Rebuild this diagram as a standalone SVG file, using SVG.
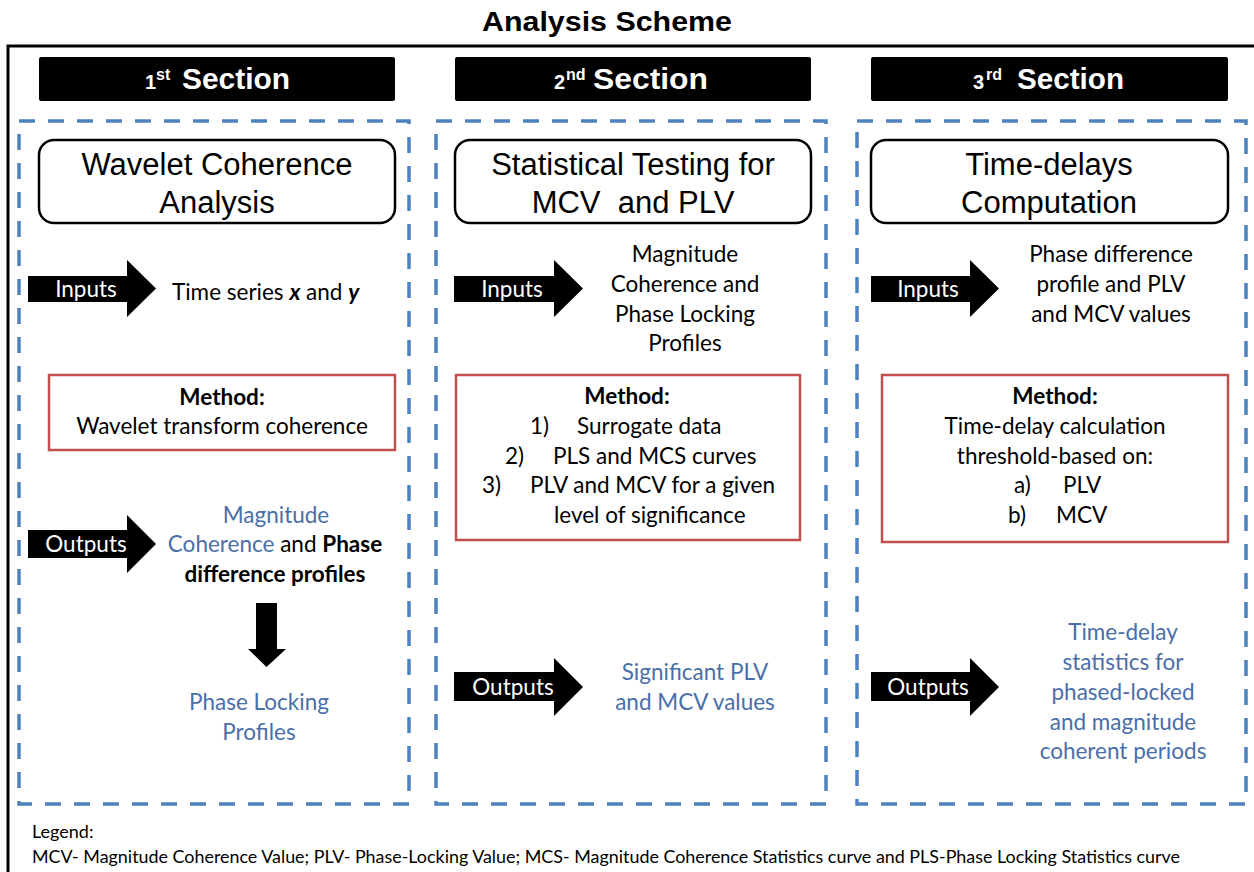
<svg xmlns="http://www.w3.org/2000/svg" width="1254" height="872" viewBox="0 0 1254 872">
<style>
.bg{fill:#ffffff}
.frame{fill:none;stroke:#000;stroke-width:3}
.hdr{fill:#000}
.hdrt{fill:#fff;font-family:"Liberation Sans",Arial,sans-serif;font-weight:bold}
.title{font-family:"Liberation Sans",Arial,sans-serif;font-weight:bold;font-size:28px;fill:#000}
.dash{fill:none;stroke:#4F81BD;stroke-width:3.5;stroke-dasharray:16 13}
.rbox{fill:#fff;stroke:#000;stroke-width:2.5}
.rt{font-family:"Liberation Sans",Arial,sans-serif;font-size:31px;fill:#000;text-anchor:middle}
.mbox{fill:#fff;stroke:#C0504D;stroke-width:2.5}
.t{font-family:Lato,"Liberation Sans",sans-serif;font-size:22.5px;fill:#000}
.c{text-anchor:middle}
.b{font-weight:bold}
.blue{fill:#4A6EA8}
.arr{fill:#000}
.at{font-family:Lato,"Liberation Sans",sans-serif;font-size:22.5px;fill:#fff;text-anchor:middle}
.leg{font-family:Lato,"Liberation Sans",sans-serif;font-size:18px;fill:#000}
</style>
<rect class="bg" x="0" y="0" width="1254" height="872"/>
<text class="title" x="482" y="31" textLength="250" lengthAdjust="spacingAndGlyphs">Analysis Scheme</text>
<path class="frame" d="M8,874 V46 H1256"/>

<g id="header1">
<rect class="hdr" x="39" y="57" width="356" height="44" rx="2"/>
<text class="hdrt" x="145" y="89" font-size="20">1</text>
<text class="hdrt" x="156" y="80" font-size="16">st</text>
<text class="hdrt" x="182" y="89" font-size="30" textLength="108" lengthAdjust="spacingAndGlyphs">Section</text>
</g>
<g id="header2">
<rect class="hdr" x="455" y="57" width="356" height="44" rx="2"/>
<text class="hdrt" x="554" y="89" font-size="20">2</text>
<text class="hdrt" x="566" y="80" font-size="16">nd</text>
<text class="hdrt" x="593" y="89" font-size="30" textLength="115" lengthAdjust="spacingAndGlyphs">Section</text>
</g>
<g id="header3">
<rect class="hdr" x="871" y="57" width="357" height="44" rx="2"/>
<text class="hdrt" x="973" y="89" font-size="20">3</text>
<text class="hdrt" x="986" y="80" font-size="16">rd</text>
<text class="hdrt" x="1017" y="89" font-size="30" textLength="107" lengthAdjust="spacingAndGlyphs">Section</text>
</g>

<g id="section1">
<rect class="dash" x="19" y="121" width="390" height="683"/>
</g>
<g id="section2">
<rect class="dash" x="436" y="121" width="390" height="683"/>
</g>
<g id="section3">
<rect class="dash" x="857" y="121" width="389" height="683"/>
</g>

<g id="title1">
<rect class="rbox" x="39" y="140" width="356" height="83" rx="15"/>
<text class="rt" x="217" y="175">Wavelet Coherence</text>
<text class="rt" x="217" y="213">Analysis</text>
</g>
<g id="title2">
<rect class="rbox" x="455" y="140" width="356" height="83" rx="15"/>
<text class="rt" x="633" y="175">Statistical Testing for</text>
<text class="rt" x="633" y="213" xml:space="preserve">MCV  and PLV</text>
</g>
<g id="title3">
<rect class="rbox" x="871" y="140" width="357" height="83" rx="15"/>
<text class="rt" x="1049" y="175">Time-delays</text>
<text class="rt" x="1049" y="213">Computation</text>
</g>

<g id="connectors">
<polygon id="in1" class="arr" points="28,276 127,276 127,260 156,288.5 127,317 127,302 28,302"/>
<polygon id="out1" class="arr" points="28,530 127,530 127,515 156,544 127,573 127,558 28,558"/>
<polygon id="down1" class="arr" points="256,603 277,603 277,649 286,649 266.5,667 248,649 256,649"/>
<polygon id="in2" class="arr" points="454,276 554,276 554,260 583,288.5 554,317 554,302 454,302"/>
<polygon id="out2" class="arr" points="454,672 554,672 554,658 583,687 554,716 554,701 454,701"/>
<polygon id="in3" class="arr" points="871,276 970,276 970,260 999,288.5 970,317 970,302 871,302"/>
<polygon id="out3" class="arr" points="871,672 970,672 970,658 999,687 970,716 970,701 871,701"/>
<text class="at" x="86" y="297">Inputs</text>
<text class="at" x="86" y="552">Outputs</text>
<text class="at" x="512" y="297">Inputs</text>
<text class="at" x="513" y="695">Outputs</text>
<text class="at" x="928" y="297">Inputs</text>
<text class="at" x="928" y="695">Outputs</text>
</g>

<g id="input1">
<text class="t" x="172" y="300">Time series <tspan font-weight="bold" font-style="italic">x</tspan> and <tspan font-weight="bold" font-style="italic">y</tspan></text>
</g>
<g id="input2">
<text class="t c" x="685" y="262">Magnitude</text>
<text class="t c" x="685" y="292">Coherence and</text>
<text class="t c" x="685" y="322">Phase Locking</text>
<text class="t c" x="685" y="351">Profiles</text>
</g>
<g id="input3">
<text class="t c" x="1111" y="262">Phase difference</text>
<text class="t c" x="1111" y="292">profile and PLV</text>
<text class="t c" x="1111" y="322">and MCV values</text>
</g>

<g id="method1">
<rect class="mbox" x="49" y="375" width="346" height="75"/>
<text class="t c b" x="222" y="405">Method:</text>
<text class="t c" x="222" y="434">Wavelet transform coherence</text>
</g>
<g id="method2">
<rect class="mbox" x="456" y="375" width="344" height="165"/>
<text class="t c b" x="627" y="404">Method:</text>
<text class="t" x="530" y="434">1)</text>
<text class="t" x="577" y="434">Surrogate data</text>
<text class="t" x="505" y="464">2)</text>
<text class="t" x="553" y="464">PLS and MCS curves</text>
<text class="t" x="482" y="493">3)</text>
<text class="t" x="530" y="493">PLV and MCV for a given</text>
<text class="t" x="554" y="523">level of significance</text>
</g>
<g id="method3">
<rect class="mbox" x="882" y="375" width="346" height="167"/>
<text class="t c b" x="1055" y="404">Method:</text>
<text class="t c" x="1055" y="434">Time-delay calculation</text>
<text class="t c" x="1055" y="464">threshold-based on:</text>
<text class="t" x="1014" y="493">a)</text>
<text class="t" x="1063" y="493">PLV</text>
<text class="t" x="1008" y="523">b)</text>
<text class="t" x="1056" y="523">MCV</text>
</g>

<g id="output1">
<text class="t c blue" x="276" y="523">Magnitude</text>
<text class="t c" x="275" y="552"><tspan class="blue">Coherence</tspan> and <tspan font-weight="bold">Phase</tspan></text>
<text class="t c b" x="275" y="582">difference profiles</text>
</g>
<g id="output1b">
<text class="t c blue" x="259" y="710">Phase Locking</text>
<text class="t c blue" x="259" y="740">Profiles</text>
</g>
<g id="output2">
<text class="t c blue" x="695" y="680">Significant PLV</text>
<text class="t c blue" x="695" y="710">and MCV values</text>
</g>
<g id="output3">
<text class="t c blue" x="1123" y="640">Time-delay</text>
<text class="t c blue" x="1123" y="670">statistics for</text>
<text class="t c blue" x="1123" y="700">phased-locked</text>
<text class="t c blue" x="1123" y="730">and magnitude</text>
<text class="t c blue" x="1123" y="759">coherent periods</text>
</g>

<g id="legend">
<text class="leg" x="32" y="838">Legend:</text>
<text class="leg" x="32" y="863" textLength="1148" lengthAdjust="spacingAndGlyphs">MCV- Magnitude Coherence Value; PLV- Phase-Locking Value; MCS- Magnitude Coherence Statistics curve and PLS-Phase Locking Statistics curve</text>
</g>
</svg>
